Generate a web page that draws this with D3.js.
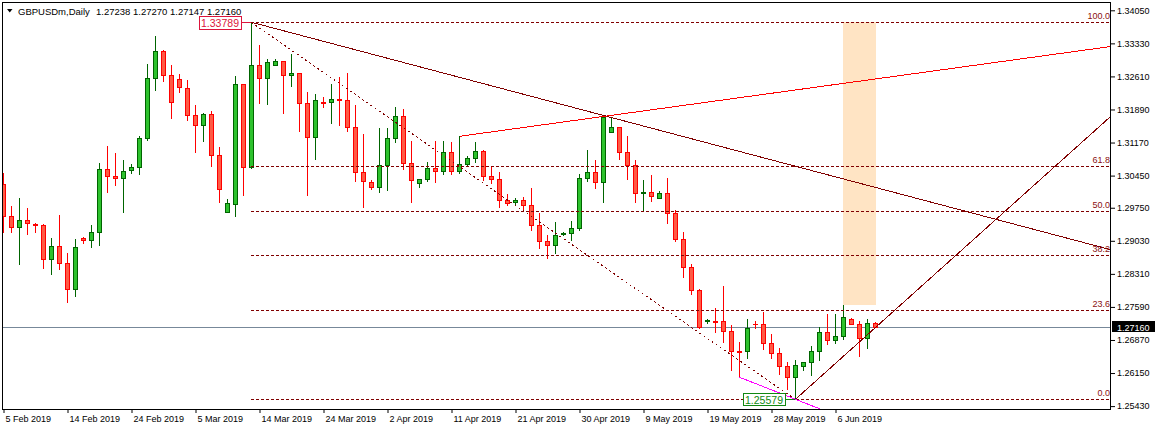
<!DOCTYPE html>
<html><head><meta charset="utf-8">
<script src="https://cdn.jsdelivr.net/npm/d3@7"></script>
<style>
body{margin:0;background:#fff;overflow:hidden;}
text{font-family:"Liberation Sans",Arial,sans-serif;}
</style>
</head><body>
<svg id="c" width="1157" height="430"></svg>
<script>
// ---- DATA ----
const symbolTitle = "GBPUSDm,Daily";
const lastOHLC = ["1.27238","1.27270","1.27147","1.27160"];
const openP = [1.30261,1.29564,1.29324,1.29477,1.29403,1.29368,1.28628,1.28911,1.28540,1.27974,
1.29085,1.29041,1.29216,1.30587,1.30435,1.30391,1.30566,1.30631,1.31263,1.32569,
1.33157,1.32635,1.32547,1.32351,1.31763,1.31546,1.31785,1.30892,1.29651,1.29825,
1.32438,1.30631,1.32852,1.32569,1.32852,1.32939,1.32635,1.32678,1.32025,1.31284,
1.32046,1.32046,1.32112,1.32090,1.31502,1.30522,1.30304,1.30195,1.30674,1.31263,
1.31742,1.30718,1.30283,1.30370,1.30609,1.30544,1.30958,1.30544,1.30696,1.30827,
1.30979,1.30435,1.30370,1.29912,1.29869,1.29912,1.29804,1.29368,1.29020,1.28932,
1.29172,1.29194,1.29303,1.30391,1.30522,1.30304,1.31393,1.31502,1.30958,1.30674,
1.30065,1.30087,1.29956,1.30065,1.29629,1.29063,1.28453,1.27952,1.27284,1.27290,
1.27277,1.27060,1.26624,1.26624,1.27225,1.27212,1.26798,1.26580,1.26297,1.26058,
1.26297,1.26385,1.26624,1.27038,1.26864,1.26951,1.27321,1.27212,1.26907,1.27238];
const highP = [1.30500,1.29788,1.29963,1.29745,1.29418,1.29396,1.29085,1.29592,1.28758,1.29076,
1.29107,1.29368,1.30718,1.31088,1.30936,1.30783,1.30696,1.31306,1.32881,1.33490,
1.33179,1.32852,1.32656,1.32526,1.31981,1.31807,1.31857,1.31067,1.29934,1.32613,
1.32438,1.33789,1.33288,1.32983,1.32983,1.32939,1.33092,1.32678,1.32264,1.32221,
1.32155,1.32438,1.32591,1.32678,1.31988,1.31356,1.30348,1.31480,1.31487,1.31938,
1.31894,1.31197,1.30370,1.30740,1.31197,1.31197,1.31175,1.31306,1.30871,1.31175,
1.31001,1.30653,1.30522,1.30043,1.29956,1.29978,1.30174,1.29629,1.29150,1.29433,
1.29216,1.29455,1.30479,1.31001,1.30783,1.31763,1.31720,1.31502,1.31306,1.30783,
1.30348,1.30457,1.30108,1.30391,1.29695,1.29216,1.28519,1.27974,1.27334,1.27560,
1.28046,1.27190,1.26820,1.27321,1.27277,1.27473,1.26994,1.26689,1.26385,1.26428,
1.26385,1.26733,1.27147,1.27430,1.27430,1.27626,1.27343,1.27277,1.27321,1.27270];
const lowP = [1.29229,1.29229,1.28532,1.29185,1.29229,1.28445,1.28314,1.28423,1.27704,1.27835,
1.28989,1.28902,1.28946,1.30100,1.30252,1.29664,1.30513,1.30492,1.31219,1.32321,
1.32517,1.31711,1.32264,1.31655,1.30971,1.31210,1.30666,1.29882,1.29651,1.29577,
1.30034,1.30609,1.32038,1.32016,1.32852,1.31820,1.32395,1.31428,1.30021,1.30805,
1.31938,1.31589,1.31559,1.31415,1.30326,1.29760,1.30152,1.30087,1.30130,1.31175,
1.30587,1.29869,1.30195,1.30326,1.30304,1.30479,1.30479,1.30500,1.30653,1.30740,
1.30348,1.30283,1.29773,1.29804,1.29825,1.29716,1.29259,1.28867,1.28649,1.28758,
1.29150,1.29041,1.29259,1.30326,1.30174,1.29869,1.31393,1.30805,1.30370,1.29869,
1.29673,1.29891,1.29956,1.29412,1.29020,1.28249,1.27865,1.27125,1.27234,1.27051,
1.26833,1.26223,1.26058,1.26472,1.27125,1.26668,1.26472,1.26123,1.25797,1.25579,
1.26210,1.26101,1.26428,1.26776,1.26798,1.26885,1.27212,1.26515,1.26689,1.27147];
const closeP = [1.29564,1.29324,1.29477,1.29412,1.29368,1.28628,1.28911,1.28540,1.27974,1.28889,
1.29041,1.29216,1.30587,1.30435,1.30391,1.30544,1.30631,1.31263,1.32569,1.33157,
1.32635,1.32046,1.32373,1.31763,1.31546,1.31785,1.30892,1.30152,1.29847,1.32438,
1.30631,1.32852,1.32569,1.32918,1.32939,1.32635,1.32678,1.32025,1.31284,1.32090,
1.32040,1.32112,1.32090,1.31502,1.30522,1.30326,1.30195,1.30674,1.31263,1.31742,
1.30718,1.30348,1.30370,1.30609,1.30544,1.30958,1.30544,1.30696,1.30827,1.30979,
1.30435,1.30370,1.29912,1.29847,1.29912,1.29804,1.29368,1.29020,1.28932,1.29150,
1.29194,1.29303,1.30391,1.30522,1.30304,1.31726,1.31502,1.30958,1.30674,1.30065,
1.30087,1.29999,1.30065,1.29629,1.29063,1.28453,1.27952,1.27160,1.27299,1.27269,
1.27060,1.26624,1.26615,1.27125,1.27219,1.26798,1.26580,1.26297,1.26058,1.26319,
1.26385,1.26624,1.27038,1.26864,1.26951,1.27365,1.27212,1.26907,1.27234,1.27160];

const dateTickIndex = [0,8,16,24,32,40,48,56,64,72,80,88,96,104];
const dateTickLabels = ["5 Feb 2019","14 Feb 2019","24 Feb 2019","5 Mar 2019","14 Mar 2019","24 Mar 2019",
  "2 Apr 2019","11 Apr 2019","21 Apr 2019","30 Apr 2019","9 May 2019","19 May 2019","28 May 2019","6 Jun 2019"];
const priceTicks = [1.34050,1.33330,1.32610,1.31890,1.31170,1.30450,1.29750,1.29030,1.28310,1.27590,1.26870,1.26150,1.25430];
const priceTickLabels = ["1.34050","1.33330","1.32610","1.31890","1.31170","1.30450","1.29750","1.29030","1.28310","1.27590","1.26870","1.26150","1.25430"];
const currentPrice = 1.27160;
const currentPriceLabel = "1.27160";

// Fibonacci retracement anchors (bar index, price)
const fibHigh = {i:31, p:1.33789, label:"1.33789"};
const fibLow  = {i:99, p:1.25579, label:"1.25579"};
const fibLevels = [100.0, 61.8, 50.0, 38.2, 23.6, 0.0];
const fibLabels = ["100.0","61.8","50.0","38.2","23.6","0.0"];

// trend lines (bar index, price) – rays to the right
const trendDown  = [{i:31,p:1.33789},{i:75,p:1.31761}];
const trendRed   = [{i:57,p:1.31306},{i:109,p:1.32554}];
const trendUp    = [{i:99,p:1.25579},{i:109,p:1.27140}];
const trendPink  = [{i:92,p:1.26058},{i:99,p:1.25579}];
// rectangle (bar index / price)
const rectZone = {i1:105, i2:109, p1:1.33789, p2:1.27626};

// ---- CHART ----
const svg = d3.select("#c");
const P = {left:3, right:1110, top:3, bottom:409};
const x = d3.scaleLinear().domain([0,109]).range([3,875]);
const y = d3.scaleLinear().domain([1.25430,1.34050]).range([406.1,10.3]);
const px = v => Math.round(x(v)) + 0.5;
const py = v => Math.round(y(v)) + 0.5;

svg.append("rect").attr("width",1157).attr("height",430).attr("fill","#fff");
svg.append("defs").append("clipPath").attr("id","clip")
  .append("rect").attr("x",P.left).attr("y",P.top).attr("width",P.right-P.left).attr("height",P.bottom-P.top);
const g = svg.append("g").attr("clip-path","url(#clip)");

// rectangle zone (background)
g.append("rect")
  .attr("x", Math.round(x(rectZone.i1))).attr("y", Math.round(y(rectZone.p1)))
  .attr("width", Math.round(x(rectZone.i2)) - Math.round(x(rectZone.i1)) + 1)
  .attr("height", Math.round(y(rectZone.p2)) - Math.round(y(rectZone.p1)))
  .attr("fill","#FFE4C4");

// current price line
g.append("line").attr("x1",P.left).attr("x2",P.right)
  .attr("y1",py(currentPrice)).attr("y2",py(currentPrice))
  .attr("stroke","#778899").attr("stroke-width",1);

// candles
const idx = d3.range(openP.length);
const cg = g.append("g");
idx.forEach(i => {
  const bull = closeP[i] >= openP[i];
  const line = bull ? "#006400" : "#FF0000";
  const fill = bull ? "#2DC22D" : "#FF5A45";
  const cx = px(i);
  cg.append("line").attr("x1",cx).attr("x2",cx)
    .attr("y1",Math.round(y(highP[i]))).attr("y2",Math.round(y(lowP[i]))+1)
    .attr("stroke",line).attr("stroke-width",1);
  const top = Math.round(y(Math.max(openP[i],closeP[i])));
  const bot = Math.round(y(Math.min(openP[i],closeP[i])));
  if (bot - top < 1) {
    cg.append("line").attr("x1",cx-2.5).attr("x2",cx+2.5)
      .attr("y1",top+0.5).attr("y2",top+0.5).attr("stroke",line).attr("stroke-width",1);
  } else {
    cg.append("rect").attr("x",cx-2).attr("y",top+0.5).attr("width",4).attr("height",bot-top)
      .attr("fill",fill).attr("stroke",line).attr("stroke-width",1);
  }
});

// fibonacci
const fr = fibHigh.p - fibLow.p;
fibLevels.forEach((lv,k) => {
  const p = fibLow.p + fr*lv/100;
  const yy = py(p);
  g.append("line").attr("x1",Math.round(x(fibHigh.i))).attr("x2",P.right)
    .attr("y1",yy).attr("y2",yy).attr("stroke","#800000").attr("stroke-width",1)
    .attr("stroke-dasharray","3,2");
  g.append("text").attr("x",P.right).attr("y",yy-3.5).attr("text-anchor","end")
    .attr("font-size","9px").attr("fill","#8B1010").text(fibLabels[k]);
});
g.append("line").attr("x1",px(fibHigh.i)).attr("y1",py(fibHigh.p))
  .attr("x2",px(fibLow.i)).attr("y2",py(fibLow.p))
  .attr("stroke","#800000").attr("stroke-width",1).attr("stroke-dasharray","2,3")
  .attr("shape-rendering","crispEdges");

// trend rays
const iEnd = x.invert(P.right + 2);
function ray(pts, color){
  const [a,b] = pts;
  const slope = (b.p - a.p)/(b.i - a.i);
  const pe = a.p + slope*(iEnd - a.i);
  g.append("line").attr("x1",x(a.i)+0.5).attr("y1",y(a.p))
    .attr("x2",x(iEnd)).attr("y2",y(pe))
    .attr("stroke",color).attr("stroke-width",1).attr("shape-rendering","crispEdges");
}
ray(trendDown, "#800000");
ray(trendRed, "#FF0000");
ray(trendUp, "#800000");
ray(trendPink, "#FF00FF");

// high / low price labels
function priceTag(pt, color, h){
  const cx = Math.round(x(pt.i));
  const cy = Math.round(y(pt.p));
  const right = cx - 10;
  g.append("line").attr("x1",right).attr("x2",cx).attr("y1",cy+0.5).attr("y2",cy+0.5)
    .attr("stroke",color).attr("stroke-width",1);
  g.append("rect").attr("x",right-42+0.5).attr("y",cy-6+0.5).attr("width",42).attr("height",h)
    .attr("fill","#fff").attr("stroke",color).attr("stroke-width",1);
  g.append("text").attr("x",right-21).attr("y",cy+4.5).attr("text-anchor","middle")
    .attr("font-size","10.5px").attr("fill",color).text(pt.label);
}
priceTag(fibHigh, "#DC143C", 13);
priceTag(fibLow, "#118811", 12);

// frame
svg.append("rect").attr("x",2.5).attr("y",2.5).attr("width",1108).attr("height",407)
  .attr("fill","none").attr("stroke","#000").attr("stroke-width",1);

// right price axis
const ya = svg.append("g").attr("transform","translate(1111,0)")
  .call(d3.axisRight(y).tickValues(priceTicks).tickSize(4).tickPadding(2)
    .tickFormat((d,i)=>priceTickLabels[i]));
ya.select(".domain").remove();
ya.selectAll("text").attr("font-size","9px").attr("font-family","Liberation Sans, Arial, sans-serif").attr("fill","#000");
ya.selectAll("line").attr("stroke","#000");

// bottom time axis
const xa = svg.append("g").attr("transform","translate(0.5,409)")
  .call(d3.axisBottom(x).tickValues(dateTickIndex).tickSize(4).tickFormat((d,i)=>dateTickLabels[i]));
xa.select(".domain").remove();
xa.selectAll("line").attr("stroke","#000");
xa.selectAll("text").attr("text-anchor","start").attr("x",1.5).attr("y",13).attr("dy",0)
  .attr("font-size","9px").attr("font-family","Liberation Sans, Arial, sans-serif").attr("fill","#000");

// current price tag
const cpy = Math.round(y(currentPrice));
svg.append("rect").attr("x",1112).attr("y",cpy-6).attr("width",43).attr("height",11).attr("fill","#000");
svg.append("text").attr("x",1117).attr("y",cpy+3.5).attr("font-size","9px").attr("fill","#fff").text(currentPriceLabel);

// title
svg.append("path").attr("d","M7,9 L12.5,9 L9.75,12.5 Z").attr("fill","#000");
svg.append("text").attr("x",18).attr("y",14.5).attr("font-size","9.5px").attr("fill","#000").text(symbolTitle);
svg.append("text").attr("x",96).attr("y",14.5).attr("font-size","9.5px").attr("fill","#000")
  .attr("xml:space","preserve").text(lastOHLC.join(" "));
</script>
</body></html>
